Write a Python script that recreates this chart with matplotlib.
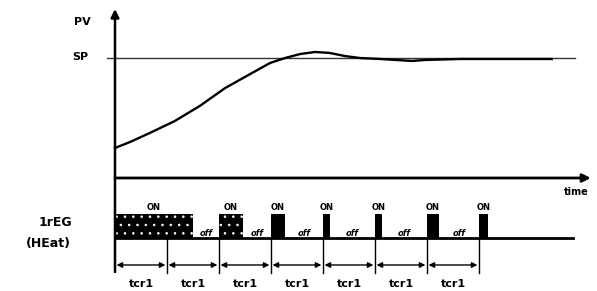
import matplotlib
matplotlib.use("Agg")
import matplotlib.pyplot as plt

plt.rcParams["hatch.linewidth"] = 0.6

# process value curve: time in cycle units, PV in % of set point
pv_time = [0, 0.29, 0.67, 1.15, 1.63, 2.12, 2.6, 2.98, 3.27, 3.56, 3.85,
           4.13, 4.42, 4.71, 5.1, 5.71, 5.96, 6.63, 8.4]
pv_pct = [0, 6.7, 16.7, 30, 46.7, 66.7, 82.2, 94.4, 100, 104.4, 106.7,
          105.6, 102.2, 100, 98.9, 96.7, 97.8, 98.9, 98.9]

# relay output: ON pulses (start, duration) in cycles
on_start = [0, 2, 3, 4, 5, 6, 7]
on_len = [1.5, 0.46, 0.27, 0.13, 0.13, 0.23, 0.17]
on_hatched = [True, True, False, False, False, False, False]
cycles = [0, 1, 2, 3, 4, 5, 6, 7]
cycle_label = "tcr1"

# layout rows (figure pixel rows, 0 = top)
px_per_cycle = 52
x0 = 115
row_pv0, row_sp = 148, 58
row_time = 178
row_on, row_base = 214, 238
row_dim, row_dim_text = 265, 284


def pv_row(p):
    return row_pv0 - p / 100 * (row_pv0 - row_sp)


fig = plt.figure(figsize=(5.97, 2.91), dpi=100)
ax = fig.add_axes([0, 0, 1, 1])
ax.set_xlim(-x0 / px_per_cycle, (597 - x0) / px_per_cycle)
ax.set_ylim(291, 0)
ax.axis("off")

bold = dict(fontweight="bold", family="DejaVu Sans", color="black")

# axes arrows
ax.annotate("", xy=(0, 9), xytext=(0, 272),
            arrowprops=dict(arrowstyle="-|>", lw=1.8, color="black",
                            mutation_scale=12, shrinkA=0, shrinkB=0))
ax.annotate("", xy=(9.15, row_time), xytext=(0, row_time),
            arrowprops=dict(arrowstyle="-|>", lw=2.0, color="black",
                            mutation_scale=12, shrinkA=0, shrinkB=0))
ax.text(-0.62, 22, "PV", ha="center", va="center", fontsize=8, **bold)
ax.text(-0.67, 57, "SP", ha="center", va="center", fontsize=8, **bold)
ax.text(8.87, 192, "time", ha="center", va="center", fontsize=7, **bold)

# set point line and PV curve
ax.plot([-0.15, 8.85], [row_sp, row_sp], color="#333333", lw=1.0)
ax.plot(pv_time, [pv_row(p) for p in pv_pct], color="black", lw=1.7)

# relay output
ax.plot([0, 8.81], [row_base, row_base], color="black", lw=2.0)
for s, d, h in zip(on_start, on_len, on_hatched):
    ax.bar(s, row_on - row_base, width=d, bottom=row_base, align="edge",
           color="black", edgecolor="white" if h else "black",
           hatch=".." if h else None, linewidth=0)
    ax.text(s + d / 2, 207, "ON", ha="center", va="center", fontsize=6, **bold)
for i, (s, d) in enumerate(zip(on_start[:-1], on_len[:-1])):
    gap_mid = (s + d + on_start[i + 1]) / 2
    ax.text(gap_mid, 234, "off", ha="center", va="center", fontsize=6,
            style="italic", **bold)

# cycle time markers
for c in cycles[1:]:
    ax.plot([c, c], [row_base, 273], color="black", lw=1.0)
for c in cycles[:-1]:
    ax.annotate("", xy=(c + 1 - 0.03, row_dim), xytext=(c + 0.03, row_dim),
                arrowprops=dict(arrowstyle="<|-|>", lw=1.0, color="black",
                                mutation_scale=8, shrinkA=0, shrinkB=0))
    ax.text(c + 0.5, row_dim_text, cycle_label, ha="center", va="center",
            fontsize=8, **bold)

ax.text(-1.15, 223, "1rEG", ha="center", va="center", fontsize=9, **bold)
ax.text(-1.28, 243, "(HEat)", ha="center", va="center", fontsize=9, **bold)

fig.savefig("out.png", dpi=100)
